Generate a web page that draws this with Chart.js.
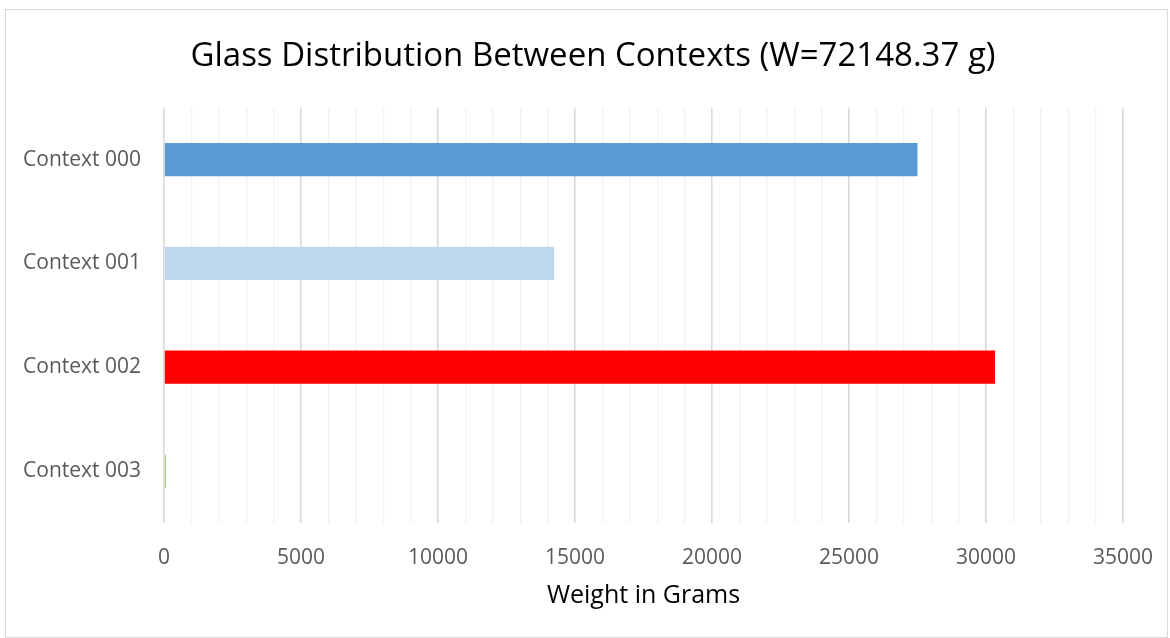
<!DOCTYPE html>
<html>
<head>
<meta charset="utf-8">
<script src="https://cdn.jsdelivr.net/npm/chart.js@4/dist/chart.umd.min.js"></script>
<style>
  html, body { margin: 0; padding: 0; background: #fff; }
  #wrap { position: relative; width: 1170px; height: 638px; }
</style>
</head>
<body>
<div id="wrap"><canvas id="c" width="1170" height="638"></canvas></div>
<script>
// Glass weight per excavation context (grams)
const contexts = ['Context 000', 'Context 001', 'Context 002', 'Context 003'];
const weights = [27500, 14240, 30330, 78.37];
const barColors = ['#5B9BD5', '#BDD7EE', '#FF0000', '#A9D18E'];
const majorTicks = [0, 5000, 10000, 15000, 20000, 25000, 30000, 35000];

const chartTitle = 'Glass Distribution Between Contexts (W=72148.37 g)';
const axisTitle = 'Weight in Grams';

// White page with a thin frame around the chart area
const framePlugin = {
  id: 'frame',
  beforeDraw(chart) {
    const ctx = chart.ctx;
    ctx.save();
    ctx.fillStyle = '#fff';
    ctx.fillRect(0, 0, chart.width, chart.height);
    ctx.strokeStyle = '#D9D9D9';
    ctx.lineWidth = 1;
    ctx.strokeRect(5.5, 9.5, chart.width - 8, chart.height - 10);
    ctx.restore();
  }
};

new Chart(document.getElementById('c'), {
  type: 'bar',
  data: {
    labels: contexts,
    datasets: [{
      data: weights,
      backgroundColor: barColors,
      borderWidth: 0,
      barPercentage: 0.32,
      categoryPercentage: 1
    }]
  },
  plugins: [framePlugin],
  options: {
    indexAxis: 'y',
    responsive: false,
    animation: false,
    layout: { padding: { top: 37, right: 0, bottom: 0, left: 16 } },
    plugins: {
      legend: { display: false },
      tooltip: { enabled: false },
      title: {
        display: true,
        text: chartTitle,
        color: '#000',
        font: { family: 'Open Sans', size: 33, weight: 'normal', lineHeight: 1.2 },
        padding: { top: 0, bottom: 31 }
      }
    },
    scales: {
      x: {
        min: 0,
        max: 35000,
        afterFit(scale) {
          scale.height = 115;
          // the side boxes already leave room for the end labels
          scale.paddingLeft = 0;
          scale.paddingRight = 0;
        },
        ticks: {
          stepSize: 1000,
          autoSkip: false,
          maxRotation: 0,
          padding: 22,
          color: '#595959',
          font: { family: 'Open Sans', size: 21 },
          callback: (v) => majorTicks.includes(v) ? String(v) : ''
        },
        grid: {
          drawTicks: false,
          color: (c) => majorTicks.includes(c.tick.value) ? '#D9D9D9' : '#F2F2F2',
          lineWidth: (c) => majorTicks.includes(c.tick.value) ? 1.6 : 1.3
        },
        border: { display: false },
        title: {
          display: true,
          text: axisTitle,
          color: '#000',
          font: { family: 'Open Sans', size: 25, lineHeight: 1.2 },
          padding: { top: 0, bottom: 27 }
        }
      },
      y: {
        afterFit(scale) { scale.width = 148; },
        grid: { display: false, drawTicks: false },
        border: { display: false },
        ticks: {
          padding: 23,
          color: '#595959',
          font: { family: 'Open Sans', size: 21 }
        }
      },
      // empty right-hand margin beside the plot
      yRight: {
        type: 'category',
        position: 'right',
        afterFit(scale) { scale.width = 47; },
        grid: { display: false, drawTicks: false },
        border: { display: false },
        ticks: { display: false }
      }
    }
  }
});
</script>
</body>
</html>
